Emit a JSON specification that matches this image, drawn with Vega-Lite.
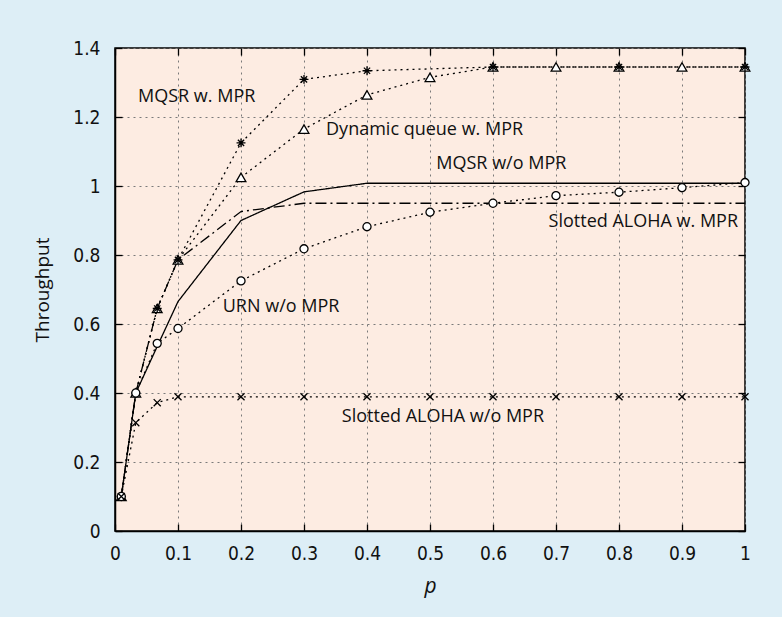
{
  "$schema": "https://vega.github.io/schema/vega-lite/v6.json",
  "width": 630,
  "height": 483,
  "autosize": {"type": "none"},
  "padding": {"left": 115, "top": 48, "right": 37, "bottom": 86},
  "background": "#ddeef6",
  "config": {
    "view": {"fill": "#fdece2", "stroke": "#000000", "strokeWidth": 1.5},
    "axis": {
      "labelFont": "Liberation Sans Narrow, DejaVu Sans Condensed, sans-serif",
      "labelFontSize": 19,
      "labelColor": "#111111",
      "titleFont": "Open Sans",
      "titleFontWeight": "normal",
      "titleColor": "#111111",
      "domainColor": "#000000",
      "domainWidth": 1.5,
      "tickColor": "#000000",
      "tickWidth": 1.3,
      "tickSize": -7,
      "gridColor": "#7a7a7a",
      "gridDash": [2, 4],
      "gridWidth": 1,
      "gridOpacity": 1
    }
  },
  "datasets": {
    "curves": [
      {"s": "Dynamic queue w. MPR", "p": 0.01, "t": 0.1},
      {"s": "Dynamic queue w. MPR", "p": 0.033, "t": 0.4},
      {"s": "Dynamic queue w. MPR", "p": 0.067, "t": 0.645},
      {"s": "Dynamic queue w. MPR", "p": 0.1, "t": 0.786},
      {"s": "Dynamic queue w. MPR", "p": 0.2, "t": 1.025},
      {"s": "Dynamic queue w. MPR", "p": 0.3, "t": 1.165},
      {"s": "Dynamic queue w. MPR", "p": 0.4, "t": 1.264},
      {"s": "Dynamic queue w. MPR", "p": 0.5, "t": 1.315},
      {"s": "Dynamic queue w. MPR", "p": 0.6, "t": 1.345},
      {"s": "Dynamic queue w. MPR", "p": 0.7, "t": 1.345},
      {"s": "Dynamic queue w. MPR", "p": 0.8, "t": 1.345},
      {"s": "Dynamic queue w. MPR", "p": 0.9, "t": 1.345},
      {"s": "Dynamic queue w. MPR", "p": 1.0, "t": 1.345},
      {"s": "MQSR w. MPR", "p": 0.01, "t": 0.1},
      {"s": "MQSR w. MPR", "p": 0.033, "t": 0.4},
      {"s": "MQSR w. MPR", "p": 0.067, "t": 0.645},
      {"s": "MQSR w. MPR", "p": 0.1, "t": 0.786},
      {"s": "MQSR w. MPR", "p": 0.2, "t": 1.125},
      {"s": "MQSR w. MPR", "p": 0.3, "t": 1.309},
      {"s": "MQSR w. MPR", "p": 0.4, "t": 1.334},
      {"s": "MQSR w. MPR", "p": 0.6, "t": 1.345},
      {"s": "MQSR w. MPR", "p": 0.8, "t": 1.345},
      {"s": "MQSR w. MPR", "p": 1.0, "t": 1.345},
      {"s": "MQSR w/o MPR", "p": 0.01, "t": 0.1},
      {"s": "MQSR w/o MPR", "p": 0.033, "t": 0.4},
      {"s": "MQSR w/o MPR", "p": 0.067, "t": 0.535},
      {"s": "MQSR w/o MPR", "p": 0.1, "t": 0.665},
      {"s": "MQSR w/o MPR", "p": 0.2, "t": 0.9},
      {"s": "MQSR w/o MPR", "p": 0.3, "t": 0.983},
      {"s": "MQSR w/o MPR", "p": 0.4, "t": 1.008},
      {"s": "MQSR w/o MPR", "p": 0.5, "t": 1.008},
      {"s": "MQSR w/o MPR", "p": 0.6, "t": 1.008},
      {"s": "MQSR w/o MPR", "p": 0.7, "t": 1.008},
      {"s": "MQSR w/o MPR", "p": 0.8, "t": 1.008},
      {"s": "MQSR w/o MPR", "p": 0.9, "t": 1.008},
      {"s": "MQSR w/o MPR", "p": 1.0, "t": 1.008},
      {"s": "Slotted ALOHA w. MPR", "p": 0.01, "t": 0.1},
      {"s": "Slotted ALOHA w. MPR", "p": 0.033, "t": 0.4},
      {"s": "Slotted ALOHA w. MPR", "p": 0.067, "t": 0.645},
      {"s": "Slotted ALOHA w. MPR", "p": 0.1, "t": 0.786},
      {"s": "Slotted ALOHA w. MPR", "p": 0.2, "t": 0.926},
      {"s": "Slotted ALOHA w. MPR", "p": 0.3, "t": 0.95},
      {"s": "Slotted ALOHA w. MPR", "p": 0.4, "t": 0.95},
      {"s": "Slotted ALOHA w. MPR", "p": 0.5, "t": 0.95},
      {"s": "Slotted ALOHA w. MPR", "p": 0.6, "t": 0.95},
      {"s": "Slotted ALOHA w. MPR", "p": 0.7, "t": 0.95},
      {"s": "Slotted ALOHA w. MPR", "p": 0.8, "t": 0.95},
      {"s": "Slotted ALOHA w. MPR", "p": 0.9, "t": 0.95},
      {"s": "Slotted ALOHA w. MPR", "p": 1.0, "t": 0.95},
      {"s": "URN w/o MPR", "p": 0.01, "t": 0.1},
      {"s": "URN w/o MPR", "p": 0.033, "t": 0.4},
      {"s": "URN w/o MPR", "p": 0.067, "t": 0.544},
      {"s": "URN w/o MPR", "p": 0.1, "t": 0.587},
      {"s": "URN w/o MPR", "p": 0.2, "t": 0.725},
      {"s": "URN w/o MPR", "p": 0.3, "t": 0.818},
      {"s": "URN w/o MPR", "p": 0.4, "t": 0.882},
      {"s": "URN w/o MPR", "p": 0.5, "t": 0.924},
      {"s": "URN w/o MPR", "p": 0.6, "t": 0.95},
      {"s": "URN w/o MPR", "p": 0.7, "t": 0.972},
      {"s": "URN w/o MPR", "p": 0.8, "t": 0.982},
      {"s": "URN w/o MPR", "p": 0.9, "t": 0.995},
      {"s": "URN w/o MPR", "p": 1.0, "t": 1.01},
      {"s": "Slotted ALOHA w/o MPR", "p": 0.01, "t": 0.1},
      {"s": "Slotted ALOHA w/o MPR", "p": 0.033, "t": 0.314},
      {"s": "Slotted ALOHA w/o MPR", "p": 0.067, "t": 0.372},
      {"s": "Slotted ALOHA w/o MPR", "p": 0.1, "t": 0.389},
      {"s": "Slotted ALOHA w/o MPR", "p": 0.2, "t": 0.389},
      {"s": "Slotted ALOHA w/o MPR", "p": 0.3, "t": 0.389},
      {"s": "Slotted ALOHA w/o MPR", "p": 0.4, "t": 0.389},
      {"s": "Slotted ALOHA w/o MPR", "p": 0.5, "t": 0.389},
      {"s": "Slotted ALOHA w/o MPR", "p": 0.6, "t": 0.389},
      {"s": "Slotted ALOHA w/o MPR", "p": 0.7, "t": 0.389},
      {"s": "Slotted ALOHA w/o MPR", "p": 0.8, "t": 0.389},
      {"s": "Slotted ALOHA w/o MPR", "p": 0.9, "t": 0.389},
      {"s": "Slotted ALOHA w/o MPR", "p": 1.0, "t": 0.389}
    ],
    "labels": [
      {"label": "MQSR w. MPR", "p": 0.0365, "t": 1.258, "a": "left"},
      {"label": "Dynamic queue w. MPR", "p": 0.335, "t": 1.162, "a": "left"},
      {"label": "MQSR w/o MPR", "p": 0.51, "t": 1.063, "a": "left"},
      {"label": "Slotted ALOHA w. MPR", "p": 0.989, "t": 0.897, "a": "right"},
      {"label": "URN w/o MPR", "p": 0.171, "t": 0.65, "a": "left"},
      {"label": "Slotted ALOHA w/o MPR", "p": 0.681, "t": 0.331, "a": "right"}
    ]
  },
  "layer": [
    {
      "data": {"name": "curves"},
      "mark": {"type": "line", "color": "#000000", "strokeWidth": 1.3},
      "encoding": {
        "x": {
          "field": "p", "type": "quantitative",
          "scale": {"domain": [0, 1], "nice": false, "zero": false},
          "axis": {
            "orient": "bottom",
            "values": [0, 0.1, 0.2, 0.3, 0.4, 0.5, 0.6, 0.7, 0.8, 0.9, 1],
            "format": "~g",
            "labelPadding": 20,
            "labelFlush": false,
            "title": "p",
            "titleFontStyle": "italic",
            "titleFontSize": 21,
            "titlePadding": 12
          }
        },
        "y": {
          "field": "t", "type": "quantitative",
          "scale": {"domain": [0, 1.4], "nice": false},
          "axis": {
            "orient": "left",
            "values": [0, 0.2, 0.4, 0.6, 0.8, 1, 1.2, 1.4],
            "format": "~g",
            "labelPadding": 22,
            "labelFlush": false,
            "title": "Throughput",
            "titleFontSize": 19,
            "titlePadding": 20
          }
        },
        "detail": {"field": "s"},
        "strokeDash": {
          "field": "s", "type": "nominal",
          "scale": {
            "domain": ["Dynamic queue w. MPR", "MQSR w. MPR", "MQSR w/o MPR", "Slotted ALOHA w. MPR", "URN w/o MPR", "Slotted ALOHA w/o MPR"],
            "range": [[2, 4], [2, 4], [1, 0], [11, 4, 2, 4], [2, 4], [2, 4]]
          },
          "legend": null
        }
      }
    },
    {
      "data": {"name": "curves"},
      "mark": {"type": "line", "opacity": 0},
      "encoding": {
        "x": {
          "field": "p", "type": "quantitative",
          "axis": {
            "orient": "top",
            "values": [0, 0.1, 0.2, 0.3, 0.4, 0.5, 0.6, 0.7, 0.8, 0.9, 1],
            "labels": false, "grid": false, "domain": false, "title": null
          }
        },
        "y": {
          "field": "t", "type": "quantitative",
          "axis": {
            "orient": "right",
            "values": [0, 0.2, 0.4, 0.6, 0.8, 1, 1.2, 1.4],
            "labels": false, "grid": false, "domain": false, "title": null
          }
        },
        "detail": {"field": "s"}
      }
    },
    {
      "data": {"name": "curves"},
      "transform": [{"filter": "datum.s !== 'MQSR w/o MPR' && datum.s !== 'Slotted ALOHA w. MPR'"}],
      "mark": {"type": "point", "filled": true, "fill": "#ffffff", "stroke": "#000000", "strokeWidth": 1.3, "opacity": 1},
      "encoding": {
        "x": {"field": "p", "type": "quantitative", "axis": null},
        "y": {"field": "t", "type": "quantitative", "axis": null},
        "shape": {
          "field": "s", "type": "nominal",
          "scale": {
            "domain": ["Dynamic queue w. MPR", "MQSR w. MPR", "URN w/o MPR", "Slotted ALOHA w/o MPR"],
            "range": [
              "triangle-up",
              "M-1,0L1,0M0,-1L0,1M-0.7,-0.7L0.7,0.7M-0.7,0.7L0.7,-0.7",
              "circle",
              "M-1,-1L1,1M-1,1L1,-1"
            ]
          },
          "legend": null
        },
        "size": {
          "field": "s", "type": "nominal",
          "scale": {
            "domain": ["Dynamic queue w. MPR", "MQSR w. MPR", "URN w/o MPR", "Slotted ALOHA w/o MPR"],
            "range": [95, 50, 70, 30]
          },
          "legend": null
        }
      }
    },
    {
      "data": {"name": "labels"},
      "transform": [{"filter": "datum.a === 'left'"}],
      "mark": {"type": "text", "align": "left", "baseline": "middle", "font": "Open Sans", "fontSize": 18, "color": "#111111"},
      "encoding": {
        "x": {"field": "p", "type": "quantitative", "axis": null},
        "y": {"field": "t", "type": "quantitative", "axis": null},
        "text": {"field": "label"}
      }
    },
    {
      "data": {"name": "labels"},
      "transform": [{"filter": "datum.a === 'right'"}],
      "mark": {"type": "text", "align": "right", "baseline": "middle", "font": "Open Sans", "fontSize": 18, "color": "#111111"},
      "encoding": {
        "x": {"field": "p", "type": "quantitative", "axis": null},
        "y": {"field": "t", "type": "quantitative", "axis": null},
        "text": {"field": "label"}
      }
    }
  ],
  "resolve": {"axis": {"x": "independent", "y": "independent"}}
}
